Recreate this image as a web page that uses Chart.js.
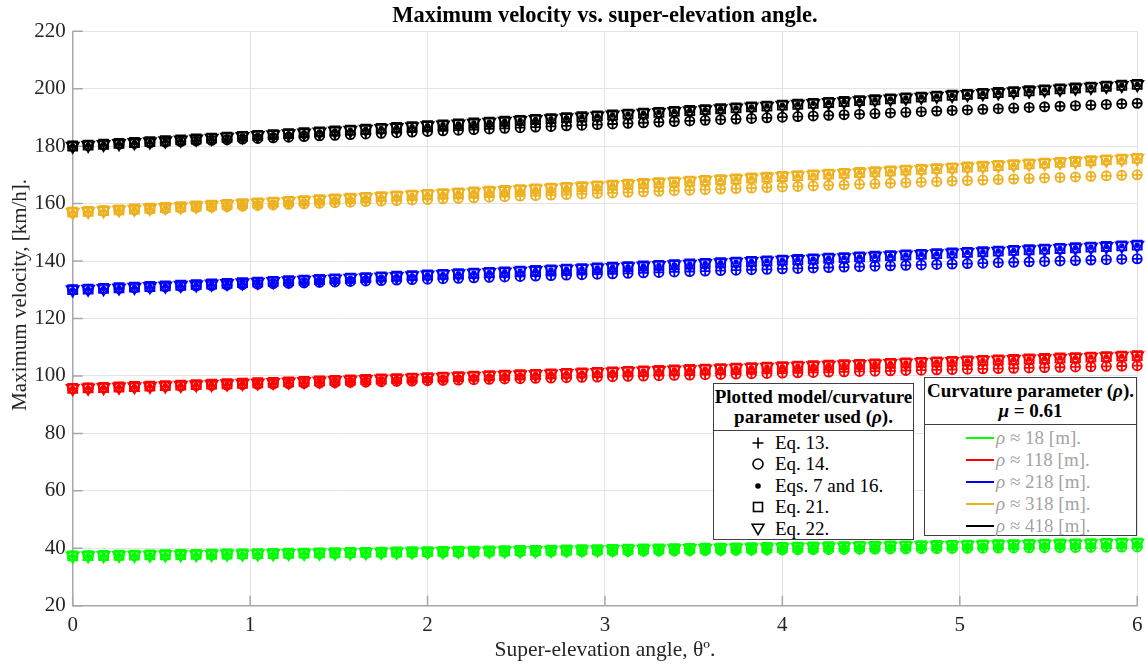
<!DOCTYPE html>
<html>
<head>
<meta charset="utf-8">
<title>Maximum velocity vs. super-elevation angle</title>
<script src="https://cdn.jsdelivr.net/npm/chart.js@4.4.1/dist/chart.umd.min.js"></script>
<style>
  body { margin: 0; background: #fff; }
  #wrap { position: relative; width: 1146px; height: 664px; font-family: "Liberation Serif", "Times New Roman", serif; color: #000; }
  #chart { position: absolute; left: 0; top: 0; }
  .lg { position: absolute; background: #fff; border: 1.5px solid #404040; box-sizing: border-box; }
  .lg .hd { position: absolute; left: 0; right: 0; top: 0; border-bottom: 1.5px solid #404040; text-align: center; font-weight: bold; font-size: 19px; line-height: 20.6px; padding-top: 2.5px; box-sizing: border-box; }
  .lg .row { position: absolute; left: 0; right: 0; height: 22px; line-height: 22px; font-size: 19px; white-space: nowrap; }
  .lg .row svg { position: absolute; top: 4px; }
  .lg .row .sw { position: absolute; top: 10px; height: 2px; }
  .lg .row span.t { position: absolute; }
  i { font-style: italic; }
</style>
</head>
<body>
<div id="wrap">
  <canvas id="chart" width="1146" height="664"></canvas>
  <div class="lg" id="lgModels" style="left:713px; top:383px; width:201px; height:157px;">
    <div class="hd" style="height:47px;">Plotted model/curvature<br>parameter used (<i>ρ</i>).</div>
  </div>
  <div class="lg" id="lgRho" style="left:924px; top:377px; width:213px; height:159px;">
    <div class="hd" style="height:47px;">Curvature parameter (<i>ρ</i>).<br><i>μ</i> = 0.61</div>
  </div>
</div>
<script>
// super-elevation angle, degrees
const theta = [
  0, 0.087, 0.174, 0.261, 0.348, 0.435, 0.522, 0.609, 0.696, 0.783,
  0.870, 0.957, 1.043, 1.130, 1.217, 1.304, 1.391, 1.478, 1.565, 1.652,
  1.739, 1.826, 1.913, 2.000, 2.087, 2.174, 2.261, 2.348, 2.435, 2.522,
  2.609, 2.696, 2.783, 2.870, 2.957, 3.043, 3.130, 3.217, 3.304, 3.391,
  3.478, 3.565, 3.652, 3.739, 3.826, 3.913, 4.000, 4.087, 4.174, 4.261,
  4.348, 4.435, 4.522, 4.609, 4.696, 4.783, 4.870, 4.957, 5.043, 5.130,
  5.217, 5.304, 5.391, 5.478, 5.565, 5.652, 5.739, 5.826, 5.913, 6.000
];

// lower branch (Eq. 13 and Eq. 14), km/h
const lo18 = [
  37.36, 37.41, 37.45, 37.50, 37.54, 37.59, 37.64, 37.68, 37.73, 37.78,
  37.82, 37.87, 37.91, 37.96, 38.00, 38.05, 38.10, 38.14, 38.19, 38.23,
  38.28, 38.32, 38.37, 38.41, 38.46, 38.50, 38.55, 38.59, 38.64, 38.69,
  38.73, 38.77, 38.82, 38.86, 38.91, 38.95, 39.00, 39.04, 39.09, 39.13,
  39.18, 39.22, 39.27, 39.31, 39.36, 39.40, 39.44, 39.49, 39.53, 39.58,
  39.62, 39.67, 39.71, 39.75, 39.80, 39.84, 39.88, 39.93, 39.97, 40.02,
  40.06, 40.10, 40.15, 40.19, 40.23, 40.28, 40.32, 40.36, 40.41, 40.45
];
const lo118 = [
  95.66, 95.78, 95.90, 96.02, 96.13, 96.25, 96.37, 96.49, 96.61, 96.72,
  96.84, 96.96, 97.08, 97.19, 97.31, 97.43, 97.54, 97.66, 97.78, 97.89,
  98.01, 98.13, 98.24, 98.36, 98.47, 98.59, 98.71, 98.82, 98.94, 99.05,
  99.17, 99.28, 99.40, 99.51, 99.63, 99.74, 99.86, 99.97, 100.09, 100.20,
  100.31, 100.43, 100.54, 100.66, 100.77, 100.88, 101.00, 101.11, 101.22, 101.34,
  101.45, 101.56, 101.67, 101.79, 101.90, 102.01, 102.12, 102.24, 102.35, 102.46,
  102.57, 102.68, 102.80, 102.91, 103.02, 103.13, 103.24, 103.35, 103.46, 103.57
];
const lo218 = [
  130.03, 130.19, 130.35, 130.51, 130.67, 130.83, 130.99, 131.16, 131.32, 131.47,
  131.63, 131.79, 131.95, 132.11, 132.27, 132.43, 132.59, 132.75, 132.91, 133.07,
  133.22, 133.38, 133.54, 133.70, 133.86, 134.01, 134.17, 134.33, 134.48, 134.64,
  134.80, 134.95, 135.11, 135.27, 135.42, 135.58, 135.73, 135.89, 136.05, 136.20,
  136.36, 136.51, 136.67, 136.82, 136.98, 137.13, 137.28, 137.44, 137.59, 137.75,
  137.90, 138.05, 138.21, 138.36, 138.51, 138.67, 138.82, 138.97, 139.12, 139.27,
  139.43, 139.58, 139.73, 139.88, 140.03, 140.18, 140.34, 140.49, 140.64, 140.79
];
const lo318 = [
  157.04, 157.23, 157.43, 157.62, 157.82, 158.01, 158.20, 158.40, 158.59, 158.79,
  158.98, 159.17, 159.36, 159.56, 159.75, 159.94, 160.13, 160.32, 160.51, 160.71,
  160.90, 161.09, 161.28, 161.47, 161.66, 161.85, 162.04, 162.23, 162.42, 162.61,
  162.80, 162.99, 163.18, 163.36, 163.55, 163.74, 163.93, 164.12, 164.31, 164.49,
  164.68, 164.87, 165.05, 165.24, 165.43, 165.61, 165.80, 165.99, 166.17, 166.36,
  166.54, 166.73, 166.91, 167.10, 167.28, 167.47, 167.65, 167.84, 168.02, 168.20,
  168.39, 168.57, 168.75, 168.94, 169.12, 169.30, 169.49, 169.67, 169.85, 170.03
];
const lo418 = [
  180.05, 180.27, 180.50, 180.72, 180.94, 181.16, 181.39, 181.61, 181.83, 182.05,
  182.27, 182.49, 182.71, 182.93, 183.15, 183.37, 183.59, 183.81, 184.03, 184.25,
  184.47, 184.69, 184.91, 185.13, 185.35, 185.57, 185.78, 186.00, 186.22, 186.43,
  186.65, 186.87, 187.09, 187.30, 187.52, 187.73, 187.95, 188.16, 188.38, 188.59,
  188.81, 189.02, 189.24, 189.45, 189.67, 189.88, 190.09, 190.31, 190.52, 190.73,
  190.95, 191.16, 191.37, 191.58, 191.79, 192.01, 192.22, 192.43, 192.64, 192.85,
  193.06, 193.27, 193.48, 193.69, 193.90, 194.11, 194.32, 194.53, 194.74, 194.95
];

// upper branch (Eqs. 7 and 16, Eq. 21, Eq. 22), km/h
const up18 = [
  37.36, 37.42, 37.49, 37.55, 37.61, 37.68, 37.74, 37.81, 37.87, 37.93,
  38.00, 38.06, 38.13, 38.19, 38.25, 38.32, 38.38, 38.44, 38.51, 38.57,
  38.64, 38.70, 38.77, 38.83, 38.89, 38.96, 39.02, 39.09, 39.15, 39.22,
  39.28, 39.34, 39.41, 39.47, 39.54, 39.60, 39.67, 39.73, 39.80, 39.86,
  39.93, 39.99, 40.05, 40.12, 40.18, 40.25, 40.31, 40.38, 40.44, 40.51,
  40.57, 40.64, 40.70, 40.77, 40.83, 40.90, 40.96, 41.03, 41.09, 41.16,
  41.22, 41.29, 41.36, 41.42, 41.49, 41.55, 41.62, 41.68, 41.75, 41.81
];
const up118 = [
  95.66, 95.82, 95.99, 96.15, 96.31, 96.47, 96.64, 96.80, 96.96, 97.13,
  97.29, 97.45, 97.62, 97.78, 97.95, 98.11, 98.27, 98.44, 98.60, 98.76,
  98.93, 99.09, 99.26, 99.42, 99.59, 99.75, 99.92, 100.08, 100.24, 100.41,
  100.57, 100.74, 100.90, 101.07, 101.23, 101.40, 101.57, 101.73, 101.90, 102.06,
  102.23, 102.39, 102.56, 102.73, 102.89, 103.06, 103.22, 103.39, 103.56, 103.72,
  103.89, 104.05, 104.22, 104.39, 104.55, 104.72, 104.89, 105.05, 105.22, 105.39,
  105.56, 105.72, 105.89, 106.06, 106.23, 106.39, 106.56, 106.73, 106.89, 107.06
];
const up218 = [
  130.03, 130.25, 130.47, 130.69, 130.92, 131.14, 131.36, 131.58, 131.80, 132.03,
  132.25, 132.47, 132.69, 132.91, 133.14, 133.36, 133.58, 133.80, 134.03, 134.25,
  134.47, 134.70, 134.92, 135.14, 135.37, 135.59, 135.81, 136.04, 136.26, 136.49,
  136.71, 136.93, 137.16, 137.38, 137.61, 137.83, 138.06, 138.28, 138.51, 138.73,
  138.96, 139.18, 139.41, 139.63, 139.86, 140.08, 140.31, 140.54, 140.76, 140.99,
  141.21, 141.44, 141.67, 141.89, 142.12, 142.35, 142.57, 142.80, 143.03, 143.25,
  143.48, 143.71, 143.94, 144.16, 144.39, 144.62, 144.85, 145.07, 145.30, 145.53
];
const up318 = [
  157.04, 157.31, 157.57, 157.84, 158.11, 158.38, 158.65, 158.91, 159.18, 159.45,
  159.72, 159.99, 160.25, 160.52, 160.79, 161.06, 161.33, 161.60, 161.87, 162.14,
  162.41, 162.68, 162.95, 163.22, 163.49, 163.76, 164.03, 164.30, 164.57, 164.84,
  165.11, 165.38, 165.65, 165.92, 166.19, 166.46, 166.73, 167.01, 167.28, 167.55,
  167.82, 168.09, 168.37, 168.64, 168.91, 169.18, 169.46, 169.73, 170.00, 170.27,
  170.55, 170.82, 171.09, 171.37, 171.64, 171.91, 172.19, 172.46, 172.74, 173.01,
  173.29, 173.56, 173.83, 174.11, 174.38, 174.66, 174.93, 175.21, 175.48, 175.76
];
const up418 = [
  180.05, 180.36, 180.66, 180.97, 181.28, 181.58, 181.89, 182.20, 182.50, 182.81,
  183.12, 183.43, 183.74, 184.04, 184.35, 184.66, 184.97, 185.28, 185.59, 185.89,
  186.20, 186.51, 186.82, 187.13, 187.44, 187.75, 188.06, 188.37, 188.68, 188.99,
  189.30, 189.61, 189.92, 190.23, 190.54, 190.85, 191.17, 191.48, 191.79, 192.10,
  192.41, 192.72, 193.04, 193.35, 193.66, 193.97, 194.28, 194.60, 194.91, 195.22,
  195.54, 195.85, 196.16, 196.48, 196.79, 197.10, 197.42, 197.73, 198.05, 198.36,
  198.68, 198.99, 199.30, 199.62, 199.93, 200.25, 200.57, 200.88, 201.20, 201.51
];

const rhoLabels = ['18', '118', '218', '318', '418'];
const rhoColors = ['#00ff00', '#ff0000', '#0000ff', '#edb120', '#000000'];
const loSeries = [lo18, lo118, lo218, lo318, lo418];
const upSeries = [up18, up118, up218, up318, up418];
const modelLabels = ['Eq. 13.', 'Eq. 14.', 'Eqs. 7 and 16.', 'Eq. 21.', 'Eq. 22.'];
const xTicks = [0, 1, 2, 3, 4, 5, 6];
const yTicks = [20, 40, 60, 80, 100, 120, 140, 160, 180, 200, 220];

const serif = '"Liberation Serif", "Times New Roman", serif';

// marker look per model: which branch, chart.js point style
const markerStyles = [
  { branch: 'lo', pointStyle: 'cross', radius: 4.8, fill: false },
  { branch: 'lo', pointStyle: 'circle', radius: 4.6, fill: false },
  { branch: 'up', pointStyle: 'circle', radius: 1.8, fill: true },
  { branch: 'up', pointStyle: 'rect', radius: 6.4, fill: false },
  { branch: 'up', pointStyle: 'triangle', radius: 7, rotation: 180, fill: false }
];

const datasets = [];
rhoColors.forEach((color, r) => {
  markerStyles.forEach((m, k) => {
    const ys = m.branch === 'lo' ? loSeries[r] : upSeries[r];
    datasets.push({
      label: 'rho ' + rhoLabels[r] + ' ' + modelLabels[k],
      data: theta.map((t, i) => ({ x: t, y: ys[i] })),
      showLine: false,
      pointStyle: m.pointStyle,
      pointRadius: m.radius,
      pointRotation: m.rotation || 0,
      pointBorderWidth: 1.8,
      pointBorderColor: color,
      pointBackgroundColor: m.fill ? color : 'rgba(0,0,0,0)',
      clip: false
    });
  });
});

// short inward tick marks on the left and bottom axes
const innerTicks = {
  id: 'innerTicks',
  beforeDatasetsDraw(chart) {
    const { ctx, chartArea: a, scales: { x, y } } = chart;
    ctx.save();
    ctx.strokeStyle = '#a8a8a8';
    ctx.lineWidth = 1.5;
    ctx.beginPath();
    xTicks.forEach(v => {
      const px = x.getPixelForValue(v);
      ctx.moveTo(px, a.bottom);
      ctx.lineTo(px, a.bottom - 10);
    });
    yTicks.forEach(v => {
      const py = y.getPixelForValue(v);
      ctx.moveTo(a.left, py);
      ctx.lineTo(a.left + 10, py);
    });
    ctx.stroke();
    ctx.restore();
  }
};

new Chart(document.getElementById('chart'), {
  type: 'scatter',
  data: { datasets },
  plugins: [innerTicks],
  options: {
    responsive: false,
    animation: false,
    devicePixelRatio: 1,
    layout: { padding: { left: 0, right: 0, top: 0, bottom: 0 } },
    plugins: {
      legend: { display: false },
      tooltip: { enabled: false },
      title: {
        display: true,
        fullSize: false,
        text: 'Maximum velocity vs. super-elevation angle.',
        color: '#000',
        font: { family: serif, size: 22.5, weight: 'bold' },
        padding: { top: 3, bottom: 1.3 }
      }
    },
    scales: {
      x: {
        type: 'linear',
        min: 0,
        max: 6,
        afterBuildTicks: s => { s.ticks = xTicks.map(v => ({ value: v })); },
        afterFit: s => { s.height = 58.3; s.paddingRight = 7; s.paddingLeft = 0; },
        ticks: { color: '#262626', font: { family: serif, size: 21 }, padding: 7, maxRotation: 0 },
        grid: { color: '#e3e3e3', lineWidth: 1, drawTicks: false },
        border: { color: '#a8a8a8', width: 1.5 },
        title: {
          display: true,
          text: 'Super-elevation angle, θº.',
          color: '#262626',
          font: { family: serif, size: 21.5 },
          padding: { top: 0, bottom: 1.2 }
        }
      },
      y: {
        type: 'linear',
        min: 20,
        max: 220,
        afterBuildTicks: s => { s.ticks = yTicks.map(v => ({ value: v })); },
        afterFit: s => { s.width = 72.7; },
        ticks: { color: '#262626', font: { family: serif, size: 21 }, padding: 7 },
        grid: { color: '#e3e3e3', lineWidth: 1, drawTicks: false },
        border: { color: '#a8a8a8', width: 1.5 },
        title: {
          display: true,
          text: '\u00a0\u00a0\u00a0\u00a0\u00a0\u00a0\u00a0\u00a0\u00a0Maximum velocity, [km/h].',
          color: '#262626',
          font: { family: serif, size: 21 },
          padding: { top: 7.4, bottom: 0 }
        }
      }
    }
  }
});

// legend boxes
const symbolSvg = [
  '<path d="M7 1.5V12.5M1.5 7H12.5"/>',
  '<circle cx="7" cy="7" r="5"/>',
  '<circle cx="7" cy="7" r="2" fill="#000"/>',
  '<rect x="2.5" y="2.5" width="9" height="9"/>',
  '<polygon points="1,2.2 13,2.2 7,12.6"/>'
];
const lgModels = document.getElementById('lgModels');
modelLabels.forEach((lab, k) => {
  const row = document.createElement('div');
  row.className = 'row';
  row.style.top = (58.7 + k * 21.5 - 11) + 'px';
  row.innerHTML = '<svg width="14" height="14" style="left:37px" fill="none" stroke="#000" stroke-width="1.6">' +
    symbolSvg[k] + '</svg><span class="t" style="left:61px">' + lab + '</span>';
  lgModels.appendChild(row);
});
const lgRho = document.getElementById('lgRho');
rhoLabels.forEach((lab, r) => {
  const row = document.createElement('div');
  row.className = 'row';
  row.style.top = (60 + r * 21.9 - 11) + 'px';
  row.innerHTML = '<div class="sw" style="left:41px;width:28px;background:' + rhoColors[r] + '"></div>' +
    '<span class="t" style="left:71px;color:#a3a3a3"><i>ρ</i> ≈ ' + lab + ' [m].</span>';
  lgRho.appendChild(row);
});
</script>
</body>
</html>
